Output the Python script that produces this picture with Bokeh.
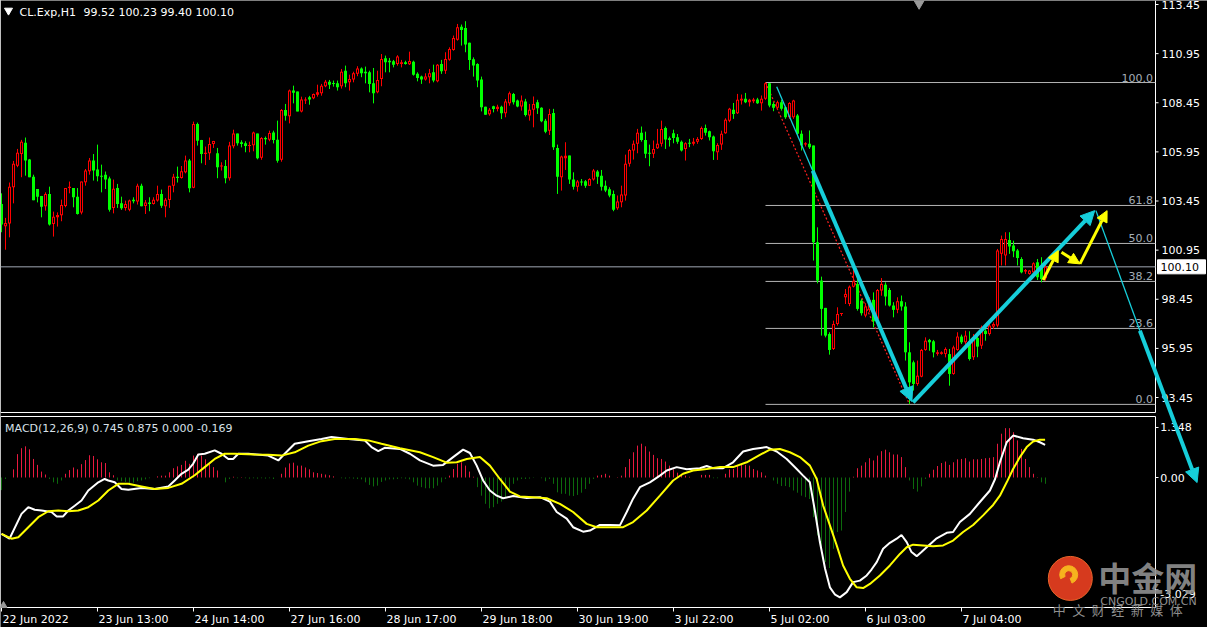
from bokeh.plotting import figure
from bokeh.models import Range1d, Arrow, NormalHead, ColumnDataSource
from bokeh.core.properties import value
from bokeh.embed import file_html
from bokeh.resources import INLINE

FONT = "DejaVu Sans"
CJK = "Noto Sans CJK SC"

# ---------------- data: CL.Exp H1 candles (bar index 0..261) ----------------
opens = [103.30,102.16,102.31,104.15,105.25,105.84,106.42,105.56,104.69,104.06,
         103.71,103.18,103.81,102.28,102.62,102.72,103.20,104.11,104.11,103.67,
         102.87,104.40,104.96,105.51,105.05,104.74,104.79,104.59,103.10,104.11,
         103.33,103.10,103.00,103.52,103.42,104.23,103.20,103.37,103.30,103.47,
         103.81,103.18,103.50,104.22,104.69,104.62,104.91,105.51,104.13,107.37,
         106.56,105.84,105.88,106.35,105.88,105.20,105.23,104.61,106.24,106.88,
         106.44,106.39,106.25,106.29,106.88,105.65,106.66,106.57,106.93,106.57,
         105.55,108.08,107.76,109.07,109.02,108.01,108.56,108.73,108.68,108.86,
         108.93,109.29,109.52,109.46,109.44,109.29,110.08,109.49,109.63,109.92,
         110.19,110.03,110.00,109.44,108.98,109.66,110.71,110.59,110.56,110.42,
         110.42,110.51,110.41,110.54,109.92,109.78,109.63,109.75,110.00,109.54,
         110.42,110.08,110.64,111.14,111.66,112.32,112.26,111.51,110.66,110.42,
         109.63,108.25,107.86,108.27,108.13,108.25,107.91,108.43,108.90,108.56,
         108.26,108.51,107.80,108.09,108.48,108.19,107.54,107.03,107.93,106.15,
         104.66,105.63,105.76,104.54,104.18,104.44,104.46,104.23,104.54,104.95,
         104.74,104.23,104.05,103.81,103.08,103.39,103.73,105.34,106.02,106.36,
         106.92,106.56,105.88,105.85,106.13,106.36,107.17,106.64,106.90,106.70,
         106.47,106.10,106.42,106.36,106.47,106.61,107.17,107.00,106.73,105.93,
         106.32,106.90,107.54,108.10,107.92,108.56,108.65,108.48,108.53,108.61,
         108.43,108.65,109.44,108.39,108.19,108.48,108.22,107.71,107.71,107.80,
         106.87,106.32,106.36,106.27,101.35,99.40,98.01,96.68,95.92,97.19,
         97.70,98.55,98.21,99.09,99.23,98.38,97.62,97.91,98.42,97.45,
         98.89,99.19,98.92,98.13,97.91,98.35,98.08,95.75,95.24,94.14,
         94.51,95.87,96.38,96.31,95.67,95.67,95.67,95.66,94.65,95.87,
         96.55,96.26,96.26,95.50,96.48,96.09,96.85,96.68,97.06,97.11,
         100.76,100.68,101.47,101.18,100.93,100.50,99.86,99.74,99.82,100.33,
         100.08,99.52]
highs = [103.84,102.59,104.39,105.49,106.10,106.56,106.68,105.59,104.79,104.06,
         103.71,103.89,104.18,102.91,102.87,103.52,104.11,104.44,104.11,104.11,
         104.44,105.08,105.64,105.84,106.32,105.30,104.95,104.69,104.54,104.32,
         103.67,103.47,103.52,103.64,104.33,104.33,103.50,103.64,103.64,104.23,
         104.03,103.60,104.22,104.83,105.20,105.23,105.76,105.59,107.49,107.44,
         106.56,106.22,106.68,106.51,106.15,105.42,105.54,106.46,107.08,106.88,
         106.54,106.49,106.47,106.98,106.88,106.70,106.73,107.03,107.03,107.54,
         108.13,108.39,109.12,109.32,109.02,108.76,108.73,108.80,108.92,109.37,
         109.41,109.61,109.61,109.58,109.58,110.17,110.34,109.88,110.03,110.31,
         110.25,110.29,110.08,110.22,110.08,110.93,110.85,110.73,110.63,110.87,
         110.63,110.59,111.05,110.59,110.00,109.83,109.95,110.17,110.39,110.42,
         110.63,111.02,111.27,111.87,112.46,112.43,112.60,111.51,110.76,110.46,
         109.78,108.25,108.18,108.30,108.35,108.30,108.64,109.02,108.95,108.61,
         108.82,108.65,108.39,108.77,108.60,108.22,107.63,108.14,108.14,106.32,
         105.76,106.44,105.76,104.91,104.52,104.57,104.52,104.61,105.08,105.03,
         105.03,104.49,104.15,103.98,103.73,104.23,105.81,106.10,106.53,107.12,
         107.24,106.98,106.32,106.53,107.12,107.54,107.24,106.73,107.08,106.86,
         106.53,106.44,106.61,106.66,106.70,107.24,107.34,107.03,106.78,106.39,
         107.03,107.66,108.19,108.44,108.90,108.87,108.95,108.65,108.70,108.70,
         108.82,109.48,109.46,108.48,108.56,108.60,108.26,108.48,108.60,107.88,
         107.04,106.44,107.04,106.27,102.11,99.60,98.01,96.77,97.36,98.04,
         97.74,98.97,99.15,99.99,99.74,98.47,98.25,98.55,98.80,98.97,
         99.53,99.31,99.02,98.30,98.55,98.64,98.30,96.26,95.33,95.33,
         95.92,96.51,96.43,96.38,95.87,95.80,96.00,95.92,96.09,96.77,
         96.65,96.85,96.82,96.68,96.68,97.11,96.94,97.19,97.28,101.01,
         101.69,101.86,101.86,101.43,101.01,100.59,99.99,99.94,100.33,100.50,
         100.59,100.23]
lows = [101.86,100.97,101.60,103.33,105.17,104.66,104.74,104.66,103.49,103.38,
        102.62,102.96,102.20,101.64,102.15,102.42,103.13,103.84,103.13,102.76,
        102.77,104.23,104.79,104.49,104.45,103.89,104.06,102.91,102.82,103.10,
        103.00,102.96,102.93,103.33,103.27,103.18,102.79,102.93,103.27,103.42,
        103.10,102.62,103.10,103.89,104.39,104.59,104.86,103.89,104.10,106.27,
        105.37,105.28,105.54,106.15,104.61,105.00,104.35,104.49,106.13,106.27,
        106.18,105.93,105.93,105.98,105.57,105.55,106.32,106.49,106.38,105.40,
        105.45,107.54,107.40,108.42,108.01,107.96,108.39,108.35,108.63,108.76,
        108.81,109.24,109.15,109.27,109.07,109.17,109.24,109.07,109.49,109.80,
        109.75,109.44,108.98,108.42,108.93,109.29,110.00,110.00,110.25,110.34,
        110.25,110.39,110.37,109.83,109.54,109.41,109.58,109.44,109.49,109.49,
        109.92,109.92,110.59,111.10,111.61,111.36,111.02,110.12,109.78,109.24,
        108.01,107.84,107.79,107.96,108.01,107.62,107.71,108.30,108.36,108.22,
        108.05,107.75,107.54,107.20,107.88,107.46,106.90,106.81,106.05,103.81,
        103.98,105.03,104.32,104.03,103.93,104.23,104.12,104.23,104.49,104.32,
        103.98,103.90,103.64,102.93,103.00,103.13,103.47,105.20,105.56,105.88,
        106.47,105.63,105.22,105.64,106.10,106.22,106.10,106.22,106.39,106.36,
        105.97,105.51,106.19,106.27,106.36,106.56,106.78,106.53,105.54,105.54,
        106.05,106.87,107.46,107.63,107.88,108.36,108.43,108.26,108.43,108.39,
        108.05,108.60,108.22,108.02,108.09,108.05,107.63,107.63,107.63,106.78,
        106.02,106.22,106.10,100.42,99.26,96.60,96.51,95.63,95.87,97.11,
        97.60,98.21,98.10,99.05,97.87,97.62,97.53,97.79,97.02,97.36,
        98.63,98.13,98.08,97.53,97.74,97.87,95.33,93.12,93.80,94.05,
        94.48,95.83,95.83,95.49,95.58,95.63,95.49,94.05,94.61,95.83,
        96.17,96.14,95.33,95.36,95.50,95.92,96.34,96.60,96.94,97.02,
        100.17,100.17,100.76,100.59,100.17,99.77,99.74,99.70,99.74,99.43,
        99.31,99.40]
closes = [102.25,102.33,104.18,105.34,105.90,106.46,105.51,104.66,103.49,103.67,
          103.16,103.81,102.25,102.65,102.74,103.25,104.11,104.18,103.64,102.79,
          104.44,105.00,105.51,105.00,104.71,104.69,104.54,103.00,104.08,103.30,
          103.08,103.30,103.47,103.44,104.23,103.18,103.37,103.30,103.52,103.81,
          103.21,103.52,104.22,104.69,104.62,104.96,105.51,104.10,107.37,106.52,
          105.84,105.90,106.35,106.51,105.17,105.25,104.61,106.27,106.88,106.39,
          106.35,106.25,106.30,106.93,105.62,106.66,106.59,106.91,106.55,105.50,
          108.08,107.79,109.07,108.96,108.01,108.61,108.61,108.61,108.90,108.98,
          109.32,109.52,109.37,109.41,109.24,110.03,109.44,109.66,109.95,110.19,
          109.95,109.95,109.41,108.93,109.61,110.68,110.51,110.51,110.39,110.80,
          110.51,110.42,110.58,109.88,109.71,109.63,109.78,109.95,109.58,110.39,
          110.05,110.68,111.19,111.75,112.29,112.15,111.41,110.63,110.34,109.58,
          108.22,107.84,108.10,108.13,108.25,107.91,108.51,108.94,108.48,108.26,
          108.56,107.83,108.09,108.39,108.17,107.51,106.98,107.88,106.19,104.69,
          105.71,105.75,104.54,104.18,104.44,104.39,104.23,104.57,105.00,104.69,
          104.18,103.98,103.73,103.01,103.42,103.78,105.34,106.05,106.36,106.92,
          106.56,105.85,105.85,106.10,106.36,107.12,106.58,106.56,106.66,106.47,
          106.02,106.39,106.36,106.47,106.61,107.17,106.92,106.70,105.98,106.30,
          106.87,107.58,108.14,107.88,108.60,108.65,108.48,108.60,108.61,108.43,
          108.65,109.44,108.31,108.19,108.48,108.14,107.71,108.44,108.56,106.87,
          106.27,106.39,106.19,101.35,99.40,97.96,96.60,95.87,97.19,97.70,
          97.72,98.72,99.09,99.36,97.96,97.74,98.08,98.42,97.33,98.92,
          99.23,98.59,98.13,97.91,98.35,98.08,95.75,94.22,94.14,94.56,
          95.87,96.34,96.26,95.75,95.75,95.75,95.92,94.65,96.00,96.55,
          96.26,96.60,95.41,96.51,96.04,97.02,96.68,97.11,97.19,100.93,
          101.52,101.52,101.13,100.89,100.55,99.82,99.94,99.91,100.28,99.57,
          99.48,100.10]

# ---------------- MACD(12,26,9) pane ----------------
macd_bar = [0,2,5,6.7,8.3,10,12.5,13.8,15.4,16.7,18.3,20,21.7,24.2,25.8,26.7,28.3,30,31.7,35,
            38.3,41.7,43.3,45,46.7,47.9,49.2,50.8,53.3,55,56.7,57.9,59.2,61.7,66.7,69.2,70.8,
            73.3,76.7,80,82.5,86.7,90.8,92.5,94.2,95.8,99.6,102.1,104.6,107.9,110.4,112.9,
            115.4,117.1,118.8,120.4,122.1,123.8,125.4,127.9,131.3,134.6,137.1,138.8,141.3,
            142.9,145.4,147.1,149.6,152.1,154.6,156.3,157.9,159.6,162.1,164.6,166.3,168.8,
            171.3,174.6,176.3,177.9,180.4,182.9,185.4,187.9,191.3,193.8,196.3,198.8,200.4,
            202.1,203.4,204.6,205.9,207.1,208.4,209.6,211.3,212.9,214.6,216.3,217.5,218.8,
            220.4,222.1,223.8,225,226.3,227.5,228.8,230,231.3,233.8,236.3,237.9,239.6,242.1,
            244.6,247.1,248.4,249.6,251.3,252.9,255.4,257.9,259.6,260.9]
macd_main = [-1.52,-1.65,-0.98,-0.80,-0.87,-0.89,-0.93,-1.05,-1.05,-0.89,-0.76,-0.62,-0.35,
             -0.13,-0.04,-0.08,-0.13,-0.31,-0.33,-0.28,-0.31,-0.24,-0.08,0.10,0.21,0.37,0.62,
             0.64,0.73,0.64,0.50,0.50,0.64,0.64,0.59,0.46,0.64,0.91,0.98,1.04,1.09,1.04,1.00,
             0.82,0.71,0.80,0.77,0.64,0.46,0.32,0.34,0.55,0.75,0.66,0.32,-0.08,-0.35,-0.49,
             -0.56,-0.50,-0.55,-0.53,-0.65,-0.93,-1.11,-1.34,-1.46,-1.43,-1.28,-1.28,-1.29,
             -0.93,-0.57,-0.26,-0.13,0.05,0.19,0.28,0.22,0.25,0.31,0.25,0.25,0.41,0.70,0.77,
             0.82,0.70,0.50,0.23,0.05,-0.13,-0.93,-1.74,-2.46,-2.96,-3.16,-3.23,-3.09,-2.82,
             -2.78,-2.64,-2.48,-2.28,-1.92,-1.76,-1.65,-1.55,-1.74,-2.01,-2.12,-2.01,-1.88,
             -1.64,-1.49,-1.47,-1.20,-0.98,-0.66,-0.35,-0.04,0.41,0.95,1.13,1.06,1.02,0.95,0.88]
signal_bar = [0,2.5,4.2,6.7,9.2,11.7,14.2,16.7,19.2,21.7,24.2,26.7,29.2,31.7,35,38.3,41.7,45,
              48.3,50.8,53.3,55.8,58.3,63.3,66.7,70,73.3,76.7,80,83.3,88.3,91.7,95,99.6,104.6,
              107.9,111.3,113.8,116.3,119.6,122.1,124.6,127.1,129.6,132.9,136.3,139.6,142.9,
              146.3,148.8,152.1,155.4,157.9,161.3,164.6,167.9,170.4,172.9,176.3,179.6,182.9,
              186.3,189.6,192.1,194.6,197.1,199.6,202.1,203.8,205.4,207.1,208.8,210.4,212.1,
              213.8,215.4,217.1,219.6,222.1,224.6,226.3,227.9,230.4,232.9,235.4,237.9,240.4,
              242.9,245.4,247.9,249.6,251.3,252.9,254.6,256.3,257.9,259.6,260.9]
signal_line = [-1.52,-1.65,-1.61,-1.34,-1.07,-0.91,-0.89,-0.91,-0.89,-0.80,-0.62,-0.35,-0.17,
               -0.17,-0.24,-0.31,-0.28,-0.17,0.06,0.28,0.50,0.64,0.64,0.62,0.61,0.59,0.68,0.86,
               0.98,1.04,1.04,1.00,0.91,0.79,0.68,0.55,0.40,0.41,0.50,0.55,0.32,-0.04,-0.38,
               -0.51,-0.53,-0.56,-0.71,-0.93,-1.25,-1.34,-1.34,-1.34,-1.20,-0.89,-0.49,-0.08,
               0.10,0.19,0.23,0.28,0.28,0.41,0.61,0.75,0.77,0.68,0.55,0.32,-0.04,-0.75,-1.29,
               -1.83,-2.37,-2.73,-2.96,-2.98,-2.87,-2.64,-2.37,-2.06,-1.88,-1.81,-1.83,-1.85,
               -1.83,-1.70,-1.47,-1.28,-1.02,-0.74,-0.49,-0.13,0.23,0.55,0.82,0.97,1.02,1.02]
histogram = [-0.34,-0.04,0.00,0.22,0.63,0.79,0.84,0.76,0.50,0.34,
             0.16,0.08,-0.04,-0.13,-0.17,-0.08,0.10,0.20,0.27,0.22,
             0.36,0.47,0.60,0.58,0.49,0.41,0.39,0.14,0.06,-0.08,
             -0.10,-0.12,-0.15,-0.14,-0.10,-0.08,-0.05,-0.02,0.00,0.03,
             0.05,0.05,0.14,0.25,0.30,0.34,0.45,0.37,0.59,0.64,
             0.59,0.49,0.37,0.28,0.19,0.00,-0.13,-0.04,0.02,-0.02,
             0.01,-0.02,-0.03,-0.02,-0.03,-0.02,-0.03,-0.02,-0.04,0.00,
             0.10,0.27,0.38,0.40,0.32,0.32,0.27,0.22,0.14,0.12,
             0.10,0.08,0.06,0.03,0.00,-0.02,-0.03,-0.02,-0.03,-0.04,
             -0.05,-0.13,-0.20,-0.24,-0.22,-0.12,-0.08,-0.05,-0.05,-0.04,
             -0.02,-0.03,-0.05,-0.13,-0.22,-0.26,-0.29,-0.29,-0.29,-0.22,
             -0.13,-0.04,0.05,0.23,0.37,0.41,0.32,0.16,0.02,-0.26,
             -0.49,-0.71,-0.83,-0.80,-0.71,-0.65,-0.53,-0.41,-0.17,-0.08,
             -0.04,-0.04,-0.03,-0.01,0.00,-0.02,-0.10,-0.04,-0.17,-0.40,
             -0.44,-0.44,-0.49,-0.50,-0.47,-0.41,-0.31,-0.17,-0.04,0.05,
             0.07,0.10,0.05,0.00,0.01,0.05,0.28,0.50,0.68,0.86,
             0.91,0.84,0.70,0.61,0.52,0.50,0.43,0.32,0.22,0.13,
             0.10,0.05,0.02,0.00,0.00,0.07,0.07,0.07,-0.02,-0.02,
             0.00,0.10,0.22,0.23,0.32,0.34,0.34,0.32,0.23,0.19,
             0.14,0.05,0.00,-0.08,-0.17,-0.23,-0.23,-0.26,-0.35,-0.41,
             -0.49,-0.53,-0.58,-1.07,-1.56,-1.92,-2.28,-2.44,-1.92,-1.47,
             -1.43,-0.93,-0.38,0.02,0.25,0.32,0.41,0.52,0.46,0.59,
             0.71,0.75,0.68,0.62,0.62,0.55,0.28,-0.08,-0.31,-0.38,
             -0.24,-0.04,0.10,0.21,0.31,0.39,0.43,0.34,0.41,0.49,
             0.50,0.52,0.43,0.49,0.49,0.50,0.52,0.53,0.55,0.91,
             1.18,1.33,1.33,1.22,1.00,0.77,0.50,0.28,0.10,0.01,
             -0.13,-0.17]

# ---------------- axes (ticks & labels) ----------------
time_ticks = [0, 24, 48, 72, 96, 120, 144, 168, 192, 216, 240]
time_labels = ["22 Jun 2022", "23 Jun 13:00", "24 Jun 14:00", "27 Jun 16:00", "28 Jun 17:00",
               "29 Jun 18:00", "30 Jun 19:00", "3 Jul 22:00", "5 Jul 02:00", "6 Jul 03:00",
               "7 Jul 04:00"]
price_ticks = [93.45, 95.95, 98.45, 100.95, 103.45, 105.95, 108.45, 110.95, 113.45]
macd_ticks = [1.348, 0.0, -3.029]
macd_tick_labels = ["1.348", "0.00", "-3.029"]

# ---------------- drawings (bar index, price) ----------------
fib_start_bar = 191
fib_high = 109.48
fib_low = 93.10
fib_ratios = [0.0, 0.236, 0.382, 0.5, 0.618, 1.0]
fib_texts = ["0.0", "23.6", "38.2", "50.0", "61.8", "100.0"]
fib_trend = ([191, 227], [109.48, 93.10])
cyan_thin = [(193.8, 109.27, 202.8, 104.99), (273.6, 102.96, 284.6, 96.85)]
cyan_heads = [(202.8, 104.99, 227.6, 93.25), (227.9, 93.20, 273.3, 102.96),
              (284.6, 96.85, 298.9, 89.12)]
yellow_arrows = [(260.4, 99.43, 264.2, 100.93), (265.0, 100.84, 269.6, 100.25),
                 (269.6, 100.25, 276.4, 102.96)]

# ---------------- layout of the MT4 window (bar / price / macd units) ----------------
X0, X1 = -0.25, 301.5             # whole window, 4 px per bar
P0, P1 = 81.745, 113.654          # price scale over whole window height
M0, M1 = -4.043, 12.857           # macd scale over whole window height
PX = (P1 - P0) / 627.0            # one screen pixel in price units
FRAME_L, FRAME_R = -0.25, 288.5
MAIN_BOTTOM = 92.687
MACD_TOP, MACD_BOTTOM = 1.644, -3.504
TICK_END = 289.25
LABEL_X = 290.0
TIME_TICK_END = -3.612
TIME_LABEL_Y = -3.83

CYAN = "#16CEDA"
YEL = "#FFFF00"
WHITE = "white"
UP = "#FF0000"
DOWN = "#00FF00"

p = figure(width=1207, height=627, x_range=Range1d(X0, X1), y_range=Range1d(P0, P1),
           output_backend="svg", toolbar_location=None, x_axis_location=None,
           y_axis_location=None, min_border=0, outline_line_color=None,
           background_fill_color="black", border_fill_color="black")
p.extra_y_ranges = {"macd": Range1d(M0, M1)}
p.grid.visible = False

# window borders
p.segment(x0=[FRAME_L, FRAME_R, FRAME_L], y0=[P1, P1, MAIN_BOTTOM],
          x1=[FRAME_L, FRAME_R, FRAME_R], y1=[MAIN_BOTTOM, MAIN_BOTTOM, MAIN_BOTTOM],
          line_color=WHITE, line_width=1)
p.segment(x0=[FRAME_L, FRAME_R, FRAME_L, FRAME_L], y0=[MACD_TOP, MACD_TOP, MACD_TOP, MACD_BOTTOM],
          x1=[FRAME_L, FRAME_R, FRAME_R, FRAME_R], y1=[MACD_BOTTOM, MACD_BOTTOM, MACD_TOP, MACD_BOTTOM],
          line_color=WHITE, line_width=1, y_range_name="macd")

# price axis
p.segment(x0=[FRAME_R] * len(price_ticks), y0=price_ticks, x1=[TICK_END] * len(price_ticks),
          y1=price_ticks, line_color=WHITE, line_width=1)
p.text(x=[LABEL_X] * len(price_ticks), y=price_ticks, text=["%.2f" % t for t in price_ticks],
       text_baseline="middle", text_align="left", text_color=WHITE, text_font=value(FONT),
       text_font_size="11px")

# macd axis
p.segment(x0=[FRAME_R] * 3, y0=macd_ticks, x1=[TICK_END] * 3, y1=macd_ticks,
          line_color=WHITE, line_width=1, y_range_name="macd")
p.text(x=[LABEL_X - 0.3] * 3, y=macd_ticks, text=macd_tick_labels,
       text_baseline=["middle", "middle", "top"], text_align="left", text_color=WHITE,
       text_font=value(FONT), text_font_size="11px", y_range_name="macd")

# time axis
p.segment(x0=time_ticks, y0=[MACD_BOTTOM] * len(time_ticks), x1=time_ticks,
          y1=[TIME_TICK_END] * len(time_ticks), line_color=WHITE, line_width=1,
          y_range_name="macd")
p.text(x=time_ticks, y=[TIME_LABEL_Y] * len(time_ticks), text=time_labels, x_offset=1,
       text_baseline="middle", text_align="left", text_color=WHITE, text_font=value(FONT),
       text_font_size="11px", y_range_name="macd")

# fib retracement
fib_vals = [fib_low + r * (fib_high - fib_low) for r in fib_ratios]
p.segment(x0=[fib_start_bar] * len(fib_vals), y0=fib_vals, x1=[FRAME_R] * len(fib_vals),
          y1=fib_vals, line_color="#B4B4B4", line_width=1)
p.text(x=[FRAME_R - 0.6] * len(fib_vals), y=fib_vals, text=fib_texts, text_align="right",
       text_baseline="bottom", text_color="#A4AEB8", text_font=value(FONT),
       text_font_size="11px", y_offset=-1)
# bid line
p.segment(x0=[FRAME_L], y0=[closes[-1]], x1=[FRAME_R], y1=[closes[-1]],
          line_color="#A0A8B4", line_width=1)
p.line(fib_trend[0], fib_trend[1], line_color="#FF2020", line_dash="2 2", line_width=1.2)

# candles: wick, solid 3px body, 1px hollow core for bullish bars
n = len(closes)
bars = list(range(n))
body_bot = [min(o, c) for o, c in zip(opens, closes)]
body_top = [max(max(o, c), b + PX) for o, c, b in zip(opens, closes, body_bot)]
is_up = [c >= o for o, c in zip(opens, closes)]
src = ColumnDataSource(dict(
    x=bars, h=highs, l=lows, top=body_top, bottom=body_bot,
    col=[UP if u else DOWN for u in is_up]))
p.segment(x0="x", y0="l", x1="x", y1="h", source=src, line_color="col", line_width=1)
p.vbar(x="x", width=0.75, top="top", bottom="bottom", source=src, fill_color="col",
       line_color=None)
core = [(i, t - PX, b + PX) for i, t, b, u in zip(bars, body_top, body_bot, is_up)
        if u and (t - b) > 2.5 * PX]
p.vbar(x=[c[0] for c in core], width=0.25, top=[c[1] for c in core],
       bottom=[c[2] for c in core], fill_color="black", line_color=None)

# MACD pane
hsrc = ColumnDataSource(dict(x=bars, z=[0] * n, v=histogram,
                             col=["#E8193F" if v > 0 else "#0C6A0C" for v in histogram]))
p.segment(x0="x", y0="z", x1="x", y1="v", source=hsrc, line_color="col", line_width=1,
          y_range_name="macd")
p.line(macd_bar, macd_main, line_color=WHITE, line_width=2, y_range_name="macd")
p.line(signal_bar, signal_line, line_color=YEL, line_width=2, y_range_name="macd")
p.text(x=[0.9], y=[1.32], text=["MACD(12,26,9) 0.745 0.875 0.000 -0.169"],
       text_baseline="middle", text_color="#D8E0E8", text_font=value(FONT),
       text_font_size="11px", y_range_name="macd")

# hand-drawn arrows
for (xs, ys, xe, ye) in cyan_thin:
    p.add_layout(Arrow(x_start=xs, y_start=ys, x_end=xe, y_end=ye, end=None,
                       line_color=CYAN, line_width=1.3))
for (xs, ys, xe, ye) in cyan_heads:
    p.add_layout(Arrow(x_start=xs, y_start=ys, x_end=xe, y_end=ye,
                       end=NormalHead(size=14, fill_color=CYAN, line_color=CYAN),
                       line_color=CYAN, line_width=4))
for (xs, ys, xe, ye) in yellow_arrows:
    p.add_layout(Arrow(x_start=xs, y_start=ys, x_end=xe, y_end=ye,
                       end=NormalHead(size=11, fill_color=YEL, line_color=YEL),
                       line_color=YEL, line_width=3))

# title, markers
p.scatter(x=[1.75], y=[113.145], marker="inverted_triangle", size=8, color=WHITE)
p.text(x=[4.5, 20.5], y=[113.043, 113.043],
       text=["CL.Exp,H1", "99.52 100.23 99.40 100.10"],
       text_baseline="middle", text_color=WHITE, text_font=value(FONT), text_font_size="11px")
p.scatter(x=[229.4], y=[113.56], marker="inverted_triangle", size=12, color="#9A9A9A")
p.scatter(x=[0.5], y=[-3.45], marker="triangle", size=7, color="#9A9A9A", y_range_name="macd")

# current price box
p.rect(x=[295.0], y=[closes[-1]], width=48, height=14, width_units="screen",
       height_units="screen", fill_color=WHITE, line_color=WHITE)
p.text(x=[289.75], y=[closes[-1]], text=["%.2f" % closes[-1]], text_baseline="middle",
       text_color="black", text_font=value(FONT), text_font_size="11px")

# watermark
p.scatter(x=[267.2], y=[-2.72], marker="circle", size=44, fill_color="#D63A1E",
          line_color="#E8642A", y_range_name="macd")
p.annular_wedge(x=[266.8], y=[-2.62], inner_radius=4, outer_radius=9,
                inner_radius_units="screen", outer_radius_units="screen",
                start_angle=-1.2, end_angle=3.6, color="#F6B21E", y_range_name="macd")
p.text(x=[274.2], y=[-2.68], text=["中金网"], text_baseline="middle", text_color="#8F8F8F",
       text_alpha=0.92, text_font=value(CJK), text_font_style="bold", text_font_size="33px",
       y_range_name="macd")
p.text(x=[274.7], y=[-3.34], text=["CNGOLD.COM.CN"], text_baseline="middle",
       text_color="#8F8F8F", text_font=value(FONT), text_font_size="11px", y_range_name="macd")
p.text(x=[262.8], y=[-3.56], text=["中\u2002文\u2002财\u2002经\u2002新\u2002媒\u2002体"],
       text_baseline="middle", text_color="#8F8F8F", text_font=value(CJK),
       text_font_size="13px", y_range_name="macd")

open("out.html", "w").write(file_html(p, INLINE))
